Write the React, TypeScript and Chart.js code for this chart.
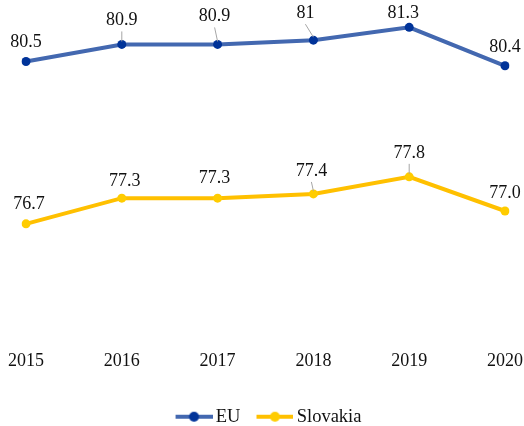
import React, { useEffect, useRef } from 'react';
import { Chart, registerables } from 'chart.js';

Chart.register(...registerables);

const years = ['2015', '2016', '2017', '2018', '2019', '2020'];
const euValues = [80.5, 80.9, 80.9, 81, 81.3, 80.4];
const slovakiaValues = [76.7, 77.3, 77.3, 77.4, 77.8, 77.0];
const seriesNames = ['EU', 'Slovakia'];

// label placement styling (offset of label centre from the point, and leader-line flag)
const euLabelStyle = [
  { dx: 0, dy: 20, leader: false },
  { dx: 0, dy: 25, leader: true },
  { dx: -3, dy: 29, leader: true },
  { dx: -8, dy: 28, leader: true },
  { dx: -6, dy: 15, leader: false },
  { dx: 0, dy: 20, leader: false },
];
const slovakiaLabelStyle = [
  { dx: 3, dy: 21, leader: false },
  { dx: 3, dy: 18, leader: false },
  { dx: -3, dy: 21, leader: false },
  { dx: -2, dy: 24, leader: true },
  { dx: 0, dy: 25, leader: true },
  { dx: 0, dy: 19, leader: false },
];

const FONT = '"Liberation Serif", "Times New Roman", serif';
const EU_LINE = '#4368B0';
const EU_MARK = '#003399';
const SK_LINE = '#FFC000';
const SK_MARK = '#FFCC00';

function legendIcon(line: string, marker: string): HTMLCanvasElement {
  const c = document.createElement('canvas');
  c.width = 49;
  c.height = 12;
  const ctx = c.getContext('2d')!;
  ctx.strokeStyle = line;
  ctx.lineWidth = 4;
  ctx.beginPath();
  ctx.moveTo(12, 6);
  ctx.lineTo(49, 6);
  ctx.stroke();
  ctx.fillStyle = marker;
  ctx.beginPath();
  ctx.arc(30.5, 6, 5, 0, Math.PI * 2);
  ctx.fill();
  return c;
}

const dataLabelPlugin = {
  id: 'dataLabels',
  afterDatasetsDraw(chart: any) {
    const ctx = chart.ctx;
    const styles = [euLabelStyle, slovakiaLabelStyle];
    const formats = [(v: number) => String(v), (v: number) => v.toFixed(1)];
    ctx.save();
    ctx.font = `18px ${FONT}`;
    ctx.textAlign = 'center';
    ctx.textBaseline = 'middle';
    chart.data.datasets.forEach((ds: any, di: number) => {
      const meta = chart.getDatasetMeta(di);
      meta.data.forEach((pt: any, i: number) => {
        const st = styles[di][i];
        const tx = pt.x + st.dx;
        const ty = pt.y - st.dy;
        if (st.leader) {
          ctx.strokeStyle = '#A6A6A6';
          ctx.lineWidth = 1;
          ctx.beginPath();
          ctx.moveTo(tx, ty + 12);
          ctx.lineTo(pt.x, pt.y - 3);
          ctx.stroke();
        }
        ctx.fillStyle = '#111';
        ctx.fillText(formats[di](ds.data[i]), tx, ty + 1);
      });
    });
    ctx.restore();
  },
};

export default function App() {
  const ref = useRef<HTMLCanvasElement>(null);
  useEffect(() => {
    const canvas = ref.current!;
    const icons = [legendIcon(EU_LINE, EU_MARK), legendIcon(SK_LINE, SK_MARK)];
    const chart = new Chart(canvas, {
      type: 'line',
      data: {
        labels: years,
        datasets: [
          {
            label: seriesNames[0],
            data: euValues,
            borderColor: EU_LINE,
            backgroundColor: EU_MARK,
            borderWidth: 4,
            pointRadius: 4.5,
            pointBorderWidth: 0,
            pointBackgroundColor: EU_MARK,
            pointBorderColor: EU_MARK,
            tension: 0,
          },
          {
            label: seriesNames[1],
            data: slovakiaValues,
            borderColor: SK_LINE,
            backgroundColor: SK_MARK,
            borderWidth: 4,
            pointRadius: 4.5,
            pointBorderWidth: 0,
            pointBackgroundColor: SK_MARK,
            pointBorderColor: SK_MARK,
            tension: 0,
          },
        ],
      },
      options: {
        responsive: false,
        animation: false,
        devicePixelRatio: 1,
        layout: { padding: { left: 26, right: 19, top: 0, bottom: -10 } },
        scales: {
          x: {
            type: 'category',
            offset: false,
            grid: { display: false, drawTicks: false },
            border: { display: false },
            ticks: {
              color: '#111',
              font: { family: FONT, size: 18, lineHeight: 4.05 },
              padding: 0,
              maxRotation: 0,
              autoSkip: false,
            },
          },
          y: {
            display: false,
            min: 74.34,
            max: 81.835,
          },
        },
        plugins: {
          legend: {
            position: 'bottom',
            labels: {
              usePointStyle: true,
              pointStyleWidth: 37,
              padding: 10,
              color: '#111',
              font: { family: FONT, size: 18.5 },
              generateLabels: (ch: any) =>
                ch.data.datasets.map((ds: any, i: number) => ({
                  text: ds.label,
                  pointStyle: icons[i],
                  fillStyle: ds.backgroundColor,
                  strokeStyle: ds.borderColor,
                  lineWidth: 0,
                  hidden: false,
                  datasetIndex: i,
                  fontColor: '#111',
                })),
            },
          },
          tooltip: { enabled: false },
        },
      },
      plugins: [dataLabelPlugin],
    });
    return () => chart.destroy();
  }, []);
  return (
    <div style={{ position: 'fixed', left: 0, top: 0, width: 524, height: 426, background: '#fff' }}>
      <canvas ref={ref} width={524} height={426} style={{ display: 'block', width: 524, height: 426 }} />
    </div>
  );
}
